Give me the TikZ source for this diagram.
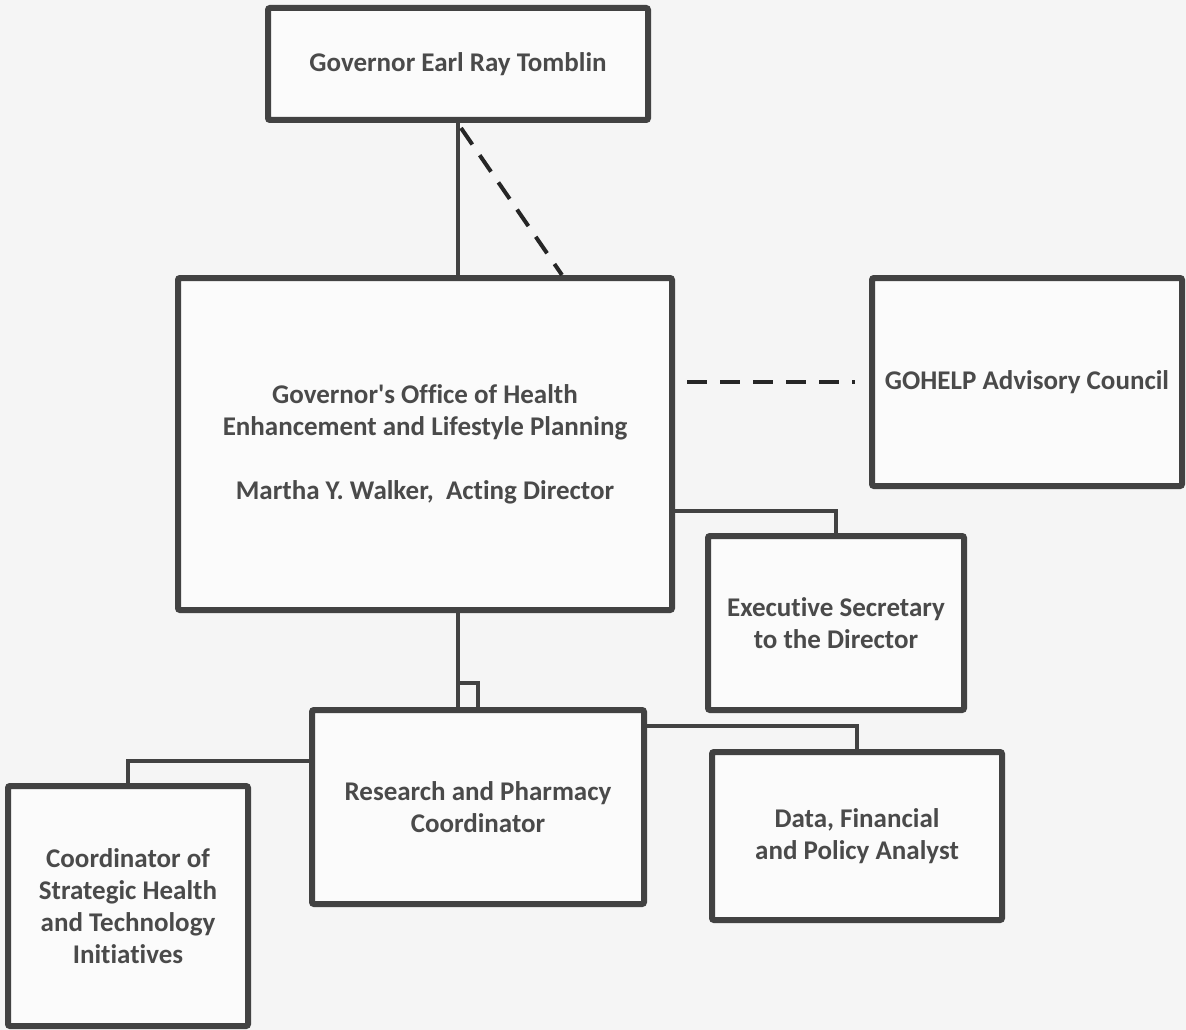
\documentclass[tikz,border=0pt]{standalone}
\usepackage{fontspec}
\newfontfamily\orgfont[Ligatures={NoCommon}]{Carlito}
\usetikzlibrary{calc}
\definecolor{bgc}{HTML}{F5F5F5}
\definecolor{boxfill}{HTML}{FBFBFB}
\definecolor{edge}{HTML}{424242}
\definecolor{txt}{HTML}{4A4A4A}
\tikzset{
  orgbox/.style={draw=edge, line width=6pt, fill=boxfill, rounded corners=2pt,
    inner sep=0pt, align=center, text=txt,
    font=\orgfont\bfseries\fontsize{27}{32}\selectfont},
  link/.style={draw=edge, line width=3.2pt},
  dlink/.style={draw=black!85, line width=4pt, dash pattern=on 20pt off 13pt}
}
\begin{document}
\begin{tikzpicture}[x=1pt,y=-1pt]
\fill[bgc] (0,0) rectangle (1186,1030);
\useasboundingbox (0,0) rectangle (1186,1030);

\node[orgbox, minimum width=380pt, minimum height=112pt] (gov) at (458,64) {Governor Earl Ray Tomblin};
\node[orgbox, minimum width=494pt, minimum height=332pt] (main) at (425,444)
  {Governor's Office of Health\\Enhancement and Lifestyle Planning\\[32pt]Martha Y. Walker,\ \ Acting Director};
\node[orgbox, minimum width=310pt, minimum height=208pt] (adv) at (1027,382) {GOHELP Advisory Council};
\node[orgbox, minimum width=256pt, minimum height=174pt] (sec) at (836,623) {Executive Secretary\\to the Director};
\node[orgbox, minimum width=332pt, minimum height=194pt] (res) at (478,807) {Research and Pharmacy\\Coordinator};
\node[orgbox, minimum width=290pt, minimum height=168pt] (data) at (857,836) {Data, Financial\\and Policy Analyst};
\node[orgbox, minimum width=240pt, minimum height=240pt] (coord) at (128,906)
  {Coordinator of\\Strategic Health\\and Technology\\Initiatives};

% connectors
\draw[link] (gov.south) -- (gov.south |- main.north);
\draw[dlink] ($(gov.south)+(3,5)$) -- ($(main.north)+(137,0)$);
\draw[dlink] ($(main.east |- adv.west)+(12,0)$) -- ($(adv.west)+(-14,0)$);
\draw[link] ($(main.north east)+(0,236)$) -| (sec.north);
\draw[link] (main.south -| gov.south) -- (gov.south |- res.north);
\draw[link] (res.north) -- ++(0,-24) -- ++(-20,0);
\draw[link] ($(res.north west)+(0,54)$) -| (coord.north);
\draw[link] ($(res.north east)+(0,19)$) -| (data.north);
\end{tikzpicture}
\end{document}
